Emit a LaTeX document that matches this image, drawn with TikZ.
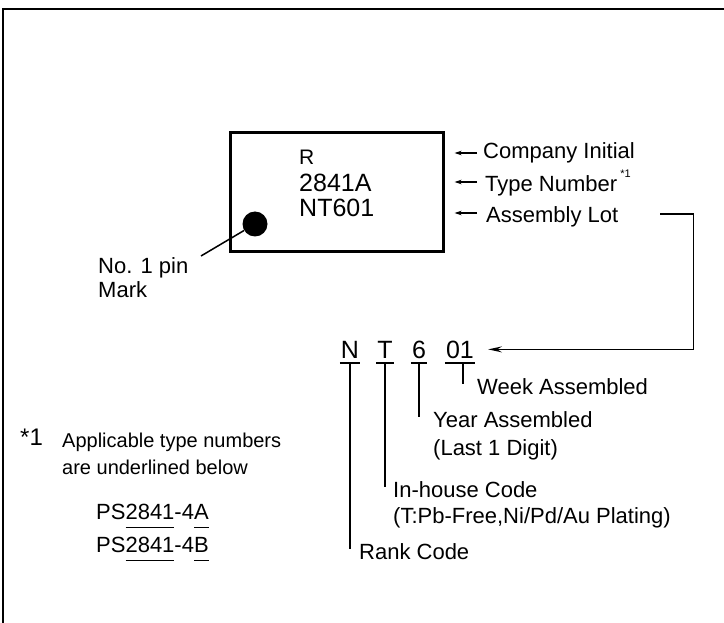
\documentclass[tikz,border=0pt]{standalone}
\usepackage{fontspec}
\setmainfont{Liberation Sans}
\usetikzlibrary{arrows.meta,calc}
\newcommand\myul[1]{\setbox0=\hbox{#1}\rlap{\rule[-9pt]{\wd0}{1.5pt}}\box0}
\tikzset{
  lbl/.style={anchor=base west, inner sep=0pt, font=\fontsize{22}{26}\selectfont},
  note/.style={anchor=base west, inner sep=0pt, font=\fontsize{20}{24}\selectfont},
  chiptxt/.style={anchor=base west, inner sep=0pt, font=\fontsize{25}{30}\selectfont},
  codech/.style={anchor=base, inner sep=0pt, font=\fontsize{25}{30}\selectfont},
  smarr/.style={-{Stealth[length=7pt,width=4.5pt]}, line width=1.2pt},
  bigarr/.style={-{Stealth[length=14pt,width=6pt,inset=5pt]}, line width=1.5pt},
  conn/.style={line width=1.5pt},
  chipbox/.style={draw, line width=3pt, inner sep=0pt, anchor=north west, minimum width=213pt, minimum height=119pt},
}
\begin{document}
\begin{tikzpicture}[x=1pt,y=-1pt]
\useasboundingbox (0,0) rectangle (724,623);
% outer frame
\draw[line width=2.5pt] (3,660) -- (3,9) -- (760,9);
% chip
\node[chipbox] (chip) at (228.5,131.5) {};
\node[chiptxt, font=\fontsize{21}{25}\selectfont] (cR) at (299,165) {R};
\node[chiptxt] (c2) at (299,192) {2841A};
\node[chiptxt] (c3) at (299,217) {NT601};
\node[circle, fill, minimum size=25pt, inner sep=0pt] (dot) at (255,224) {};
\coordinate (pinend) at (201,256);
\draw[conn] (dot) -- (pinend);
\node[lbl] (pin1) at (98,273) {No. 1 pin};
\node[lbl] (pin2) at (98,298) {Mark};
% right labels
\node[lbl] (lc) at (483,159) {Company Initial};
\node[lbl] (tn) at (485,192) {Type Number\kern3pt\raisebox{14pt}{\fontsize{11}{11}\selectfont *1}};
\node[lbl] (al) at (486,223) {Assembly Lot};
\coordinate (chipr) at ($(chip.east)+(10,0)$);
\draw[smarr] ($(lc.base west)+(-6,-6)$) coordinate (a1) -- (a1 -| chipr);
\draw[smarr] ($(tn.base west)+(-8,-10)$) coordinate (a2) -- (a2 -| chipr);
\draw[smarr] ($(al.base west)+(-9,-10)$) coordinate (a3) -- (a3 -| chipr);
% code characters
\node[codech] (nN) at (350,358) {N};
\node[codech] (nT) at (385,358) {T};
\node[codech] (n6) at (419,358) {6};
\node[codech] (n01) at (460,358) {01};
\coordinate (alstart) at ($(al.base east)+(42,-9)$);
\draw[bigarr] (alstart) -- ++(33,0) |- ($(n01.east)+(14,0)$);
% labels of code
\node[lbl] (wk) at (477,394) {Week Assembled};
\node[lbl] (yr) at (433,427) {Year Assembled};
\node[lbl] (yr2) at (433,455) {(Last 1 Digit)};
\node[lbl] (ih) at (393,497) {In-house Code};
\node[lbl] (ih2) at (393,523) {(T:Pb-Free,Ni/Pd/Au Plating)};
\node[lbl] (rk) at (359,559) {Rank Code};
% underlines and ticks
\foreach \c/\l/\dx in {nN/rk/0, nT/ih/0, n6/yr/0, n01/wk/3}{
  \draw[conn] ($(\c.base west)+(-1,5)$) -- ($(\c.base east)+(1,5)$);
  \draw[conn] ($(\c.base)+(\dx,5)$) -- ($(\c.base |- \l.base)+(\dx,-10)$);
}
% footnote
\node[anchor=base west, inner sep=0pt, font=\fontsize{24}{28}\selectfont] (fn) at (20,445) {*1};
\node[note] (fn1) at (62,447) {Applicable type numbers};
\node[note] (fn2) at (62,474) {are underlined below};
\node[lbl] (ps1) at (96,519) {PS\myul{2841}-4\myul{A}};
\node[lbl] (ps2) at (96,552) {PS\myul{2841}-4\myul{B}};
\end{tikzpicture}
\end{document}
